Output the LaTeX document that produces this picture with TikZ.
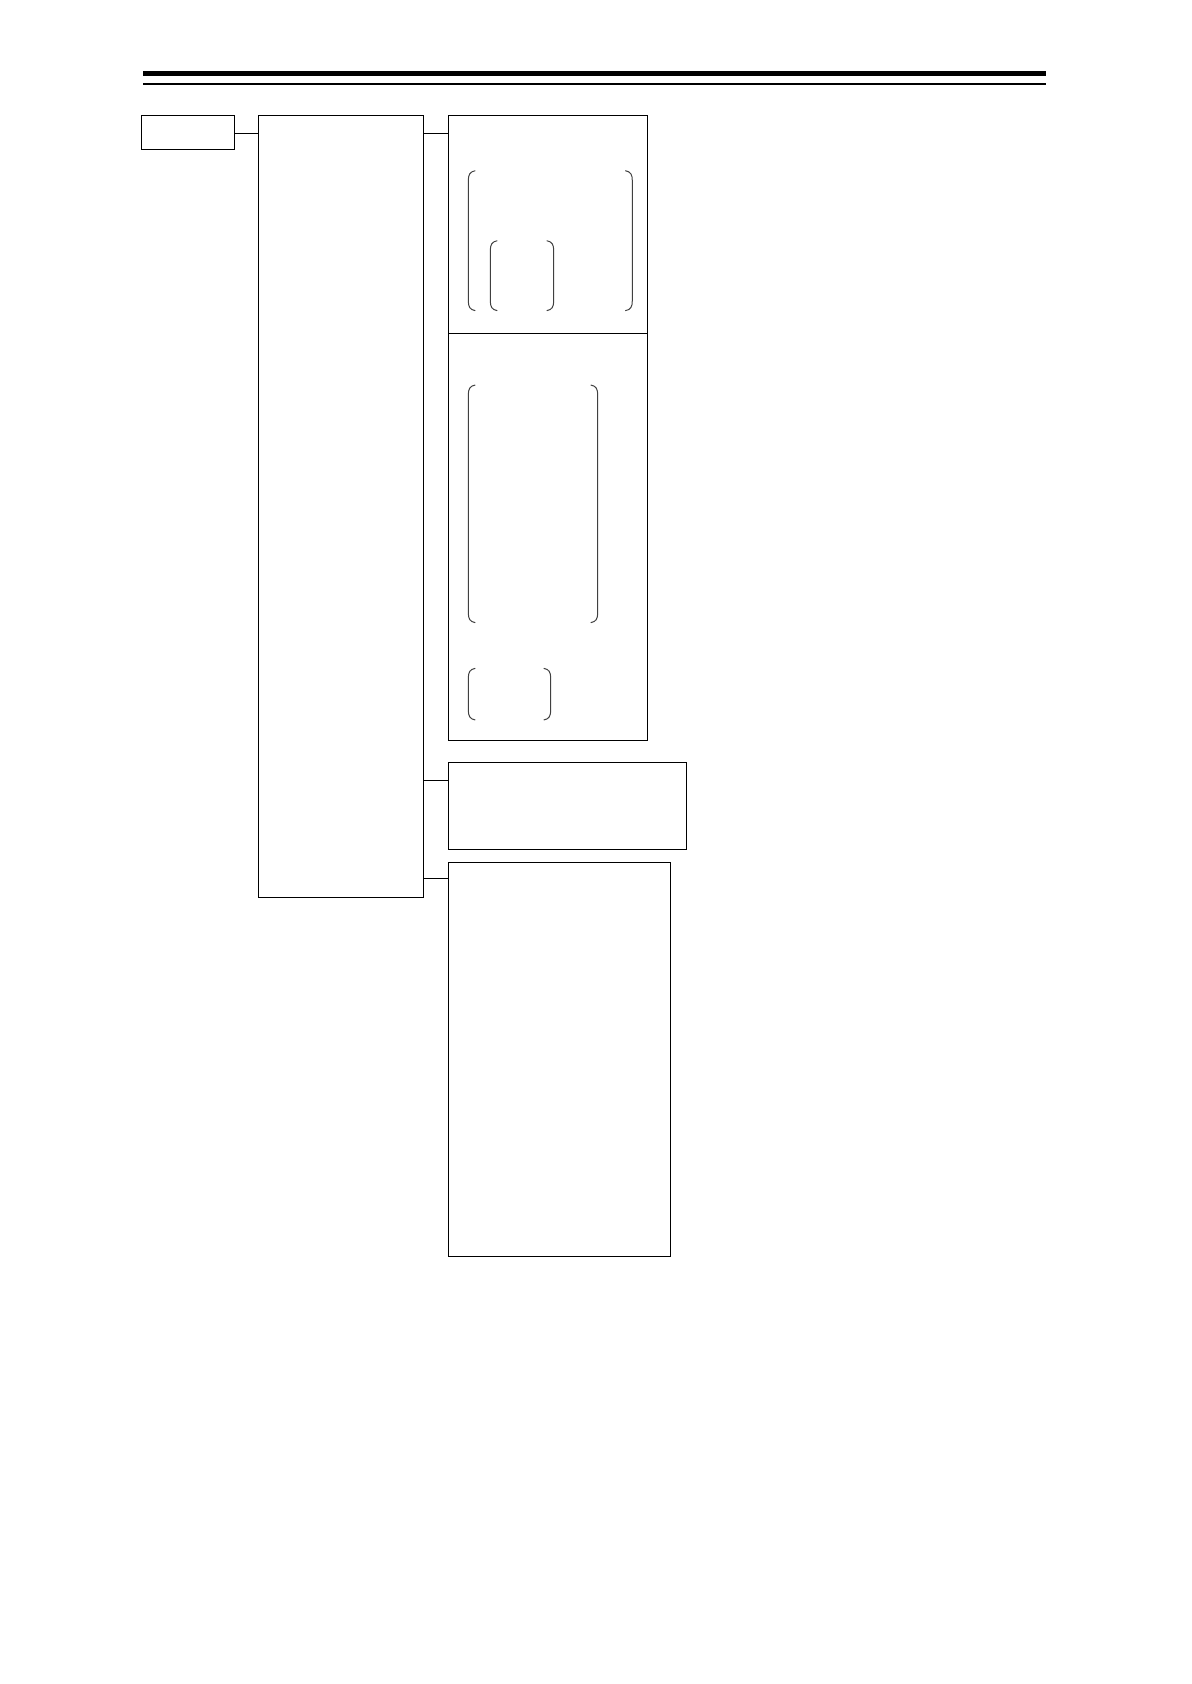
\documentclass[tikz,border=0pt]{standalone}
\usetikzlibrary{calc}
\tikzset{
  box/.style={draw, line width=0.5pt, inner sep=0pt, anchor=north west, rectangle},
  link/.style={line width=0.5pt},
  brk/.style={line width=0.5pt, draw=black!75},
  rulethick/.style={line width=2.6pt},
  rulethin/.style={line width=1.2pt}
}
\newcommand\lbrak[3]{\draw[brk] (#1+7,#2) .. controls (#1+1.5,#2+1) and (#1,#2+4) .. (#1,#2+10) -- (#1,#3-10) .. controls (#1,#3-4) and (#1+1.5,#3-1) .. (#1+7,#3);}
\newcommand\rbrak[3]{\draw[brk] (#1-7,#2) .. controls (#1-1.5,#2+1) and (#1,#2+4) .. (#1,#2+10) -- (#1,#3-10) .. controls (#1,#3-4) and (#1-1.5,#3-1) .. (#1-7,#3);}
\begin{document}
\begin{tikzpicture}[x=0.5pt,y=-0.5pt]
\useasboundingbox (0,0) rectangle (1191,1684);
% header rules
\coordinate (r1a) at (143,73.5);
\coordinate (r1b) at (1046,73.5);
\coordinate (r2a) at (143,84);
\coordinate (r2b) at (1046,84);
\draw[rulethick] (r1a) -- (r1b);
\draw[rulethin] (r2a) -- (r2b);
% boxes
\node[box, minimum width=46.25pt, minimum height=17pt] (A) at (141,115.3) {};
\node[box, minimum width=82.5pt, minimum height=391pt] (B) at (258.3,115.3) {};
\node[box, minimum width=99.8pt, minimum height=109pt] (Ct) at (447.7,115.3) {};
\node[box, minimum width=99.8pt, minimum height=203.5pt] (Cb) at (447.7,333.3) {};
\node[box, minimum width=119pt, minimum height=43.5pt] (D) at (447.7,762.3) {};
\node[box, minimum width=111.3pt, minimum height=197.4pt] (E) at (447.7,861.5) {};
% connectors
\draw[link] ([yshift=-0.5pt]A.east) -- ([yshift=-0.5pt]A.east -| B.west);
\draw[link] ([yshift=-9pt]Ct.north west) -- ([yshift=-9pt]Ct.north west -| B.east);
\draw[link] ([yshift=-9pt]D.north west) -- ([yshift=-9pt]D.north west -| B.east);
\draw[link] ([yshift=-8.5pt]E.north west) -- ([yshift=-8.5pt]E.north west -| B.east);
% brackets in upper part of C
\lbrak{468.3}{170.7}{310.7}
\rbrak{632.3}{170.7}{310.7}
\lbrak{490.3}{240.7}{310.7}
\rbrak{553.7}{240.7}{310.7}
% brackets in lower part of C
\lbrak{468.3}{385}{622.7}
\rbrak{597.7}{385}{622.7}
\lbrak{468.3}{668.3}{720}
\rbrak{550.7}{668.3}{720}
\end{tikzpicture}
\end{document}
